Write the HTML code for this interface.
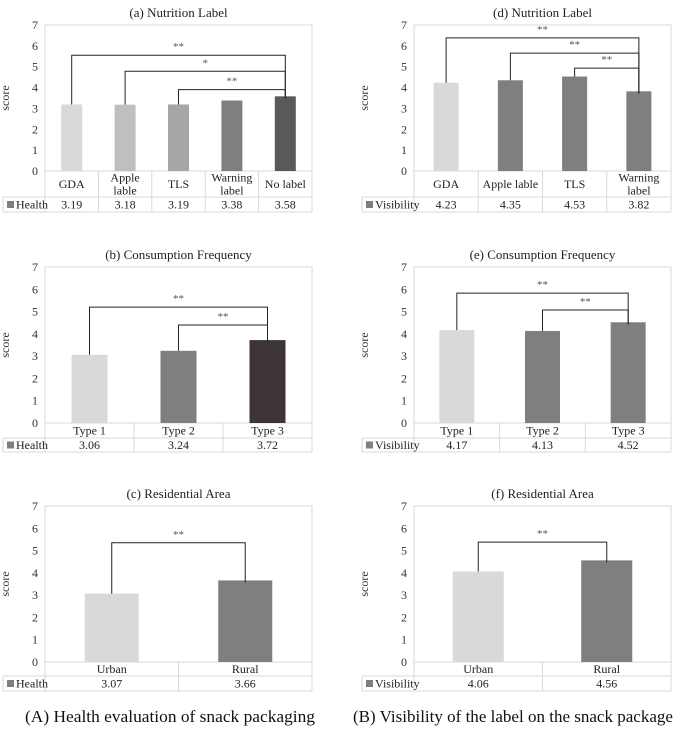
<!DOCTYPE html>
<html><head><meta charset="utf-8">
<style>
html,body{margin:0;padding:0;background:#fff;}
svg{display:block;font-family:"Liberation Serif",serif;}
</style></head>
<body>
<svg id="chart" width="685" height="731" viewBox="0 0 685 731">
<text x="25" y="722" font-size="17" textLength="290" lengthAdjust="spacingAndGlyphs" fill="#111">(A) Health evaluation of snack packaging</text>
<text x="353" y="722" font-size="17" textLength="320" lengthAdjust="spacingAndGlyphs" fill="#111">(B) Visibility of the label on the snack package</text>
</svg>
<script>
// ---- data ----
const aCategories = [["GDA"],["Apple","lable"],["TLS"],["Warning","label"],["No label"]];
const aValues = [3.19, 3.18, 3.19, 3.38, 3.58];
const aBrackets = [[0,4,5.55,"**"],[1,4,4.78,"*"],[2,4,3.9,"**"]];
const bCategories = [["Type 1"],["Type 2"],["Type 3"]];
const bValues = [3.06, 3.24, 3.72];
const bBrackets = [[0,2,5.2,"**"],[1,2,4.4,"**"]];
const cCategories = [["Urban"],["Rural"]];
const cValues = [3.07, 3.66];
const cBrackets = [[0,1,5.35,"**"]];
const dCategories = [["GDA"],["Apple lable"],["TLS"],["Warning","label"]];
const dValues = [4.23, 4.35, 4.53, 3.82];
const dBrackets = [[0,3,6.38,"**"],[1,3,5.65,"**"],[2,3,4.93,"**"]];
const eCategories = [["Type 1"],["Type 2"],["Type 3"]];
const eValues = [4.17, 4.13, 4.52];
const eBrackets = [[0,2,5.83,"**"],[1,2,5.07,"**"]];
const fCategories = [["Urban"],["Rural"]];
const fValues = [4.06, 4.56];
const fBrackets = [[0,1,5.38,"**"]];
const yTicks = [0,1,2,3,4,5,6,7];

const NS = "http://www.w3.org/2000/svg";
const svg = document.getElementById("chart");
function mk(tag, attrs, parent){
  const e = document.createElementNS(NS, tag);
  for (const k in attrs) e.setAttribute(k, attrs[k]);
  (parent||svg).appendChild(e);
  return e;
}

function panel(p){
  const g = mk("g", {});
  
  
  const L=p.left, R=p.right, T=p.top, Z=p.zero, C=p.catEnd, B=p.tabEnd;
  const y = v => Z - (Z - T) * v / 7;
  const n = p.cats.length, cw = (R - L) / n;
  const xc = i => L + cw * (i + 0.5);
  const t = mk("text", {x:(L+R)/2, y:T-8, "font-size":13, "text-anchor":"middle", fill:"#222"}, g);
  t.textContent = p.title;
  
  
  const fr = mk("rect", {x:L, y:T, width:R-L, height:Z-T, fill:"none", stroke:"#d9d9d9", "stroke-width":1}, g);
  
  
  yTicks.forEach(v => {
    const tt = mk("text", {x:L-10, y:y(v)+4, "font-size":12, "text-anchor":"middle", fill:"#333"}, g);
    tt.textContent = v;
    
    
  });
  const yl = mk("text", {x:0, y:0, "font-size":12, "text-anchor":"middle", fill:"#333", transform:`translate(${p.scoreX},${(T+Z)/2}) rotate(-90)`}, g);
  yl.textContent = "score";
  
  
  p.vals.forEach((v,i) => {
    const r = mk("rect", {x:xc(i)-p.bw/2, y:y(v), width:p.bw, height:Z-y(v), fill:p.colors[i]}, g);
    
    
  });
  const ln = (x1,y1,x2,y2) => mk("line", {x1, y1, x2, y2, stroke:"#d9d9d9", "stroke-width":1}, g);
  ln(L, C, R, C); ln(p.tabLeft, C, p.tabLeft, B); ln(p.tabLeft, B, R, B); ln(R, Z, R, B); ln(L, Z, L, B); ln(p.tabLeft, C, L, C);
  for (let i=1;i<n;i++) ln(L+cw*i, Z, L+cw*i, B);
  p.cats.forEach((c,i) => {
    const lines = c.length, lh = 13;
    const mid = (Z + C)/2;
    c.forEach((s,k) => {
      const tx = mk("text", {x:xc(i), y:mid + 4 + (k - (lines-1)/2)*lh, "font-size":12, "text-anchor":"middle", fill:"#222"}, g);
      tx.textContent = s;
      
      
    });
    const vt = mk("text", {x:xc(i), y:(C+B)/2+4, "font-size":12, "text-anchor":"middle", fill:"#222"}, g);
    vt.textContent = p.vals[i].toFixed(2);
    
    
  });
  const sw = mk("rect", {x:p.tabLeft+4, y:(C+B)/2-3.5, width:7, height:7, fill:"#7f7f7f"}, g);
  
  
  const lt = mk("text", {x:p.tabLeft+13, y:(C+B)/2+4, "font-size":12, fill:"#222"}, g);
  lt.textContent = p.series;
  
  
  p.brackets.forEach(b => {
    const [i,j,h,s] = b;
    const yh = y(h);
    const pth = mk("path", {d:`M${xc(i)},${y(p.vals[i])} V${yh} H${xc(j)} V${y(p.vals[j])+2}`, fill:"none", stroke:"#222", "stroke-width":1}, g);
    
    
    const st = mk("text", {x:(xc(i)+xc(j))/2, y:yh-5, "font-size":11, "text-anchor":"middle", fill:"#555"}, g);
    st.textContent = s;
    
    
  });
}

const LL=45, LR=312, RL=414, RR=671;
panel({name:"chart-a-nutrition-label", title:"(a) Nutrition Label", cats:aCategories, vals:aValues, brackets:aBrackets,
  left:LL, right:LR, top:25, zero:171, catEnd:197, tabEnd:212, tabLeft:3, scoreX:9, bw:21, series:"Health",
  colors:["#d9d9d9","#bfbfbf","#a6a6a6","#7f7f7f","#595959"]});
panel({name:"chart-b-consumption-frequency", title:"(b) Consumption Frequency", cats:bCategories, vals:bValues, brackets:bBrackets,
  left:LL, right:LR, top:267, zero:423, catEnd:438, tabEnd:452, tabLeft:3, scoreX:9, bw:36, series:"Health",
  colors:["#d9d9d9","#7f7f7f","#3d3535"]});
panel({name:"chart-c-residential-area", title:"(c) Residential Area", cats:cCategories, vals:cValues, brackets:cBrackets,
  left:LL, right:LR, top:506, zero:662, catEnd:676, tabEnd:691, tabLeft:3, scoreX:9, bw:54, series:"Health",
  colors:["#d9d9d9","#7f7f7f"]});
panel({name:"chart-d-nutrition-label", title:"(d) Nutrition Label", cats:dCategories, vals:dValues, brackets:dBrackets,
  left:RL, right:RR, top:25, zero:171, catEnd:197, tabEnd:212, tabLeft:362, scoreX:368, bw:25, series:"Visibility",
  colors:["#d9d9d9","#7f7f7f","#7f7f7f","#7f7f7f"]});
panel({name:"chart-e-consumption-frequency", title:"(e) Consumption Frequency", cats:eCategories, vals:eValues, brackets:eBrackets,
  left:RL, right:RR, top:267, zero:423, catEnd:438, tabEnd:452, tabLeft:362, scoreX:368, bw:35, series:"Visibility",
  colors:["#d9d9d9","#7f7f7f","#7f7f7f"]});
panel({name:"chart-f-residential-area", title:"(f) Residential Area", cats:fCategories, vals:fValues, brackets:fBrackets,
  left:RL, right:RR, top:506, zero:662, catEnd:676, tabEnd:691, tabLeft:362, scoreX:368, bw:51, series:"Visibility",
  colors:["#d9d9d9","#7f7f7f"]});
</script>
</body></html>
